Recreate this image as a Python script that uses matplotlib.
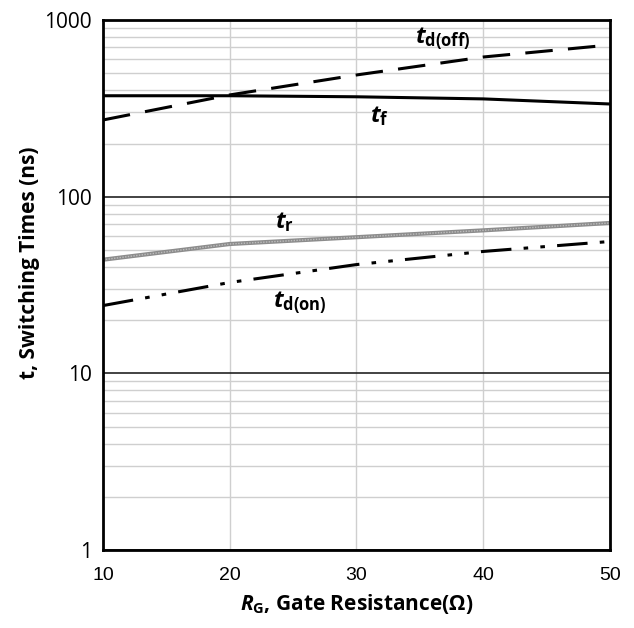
import matplotlib
matplotlib.use("Agg")
import matplotlib.pyplot as plt
from matplotlib.ticker import LogLocator, FixedLocator

plt.rcParams['mathtext.fontset'] = 'custom'
plt.rcParams['mathtext.it'] = 'Open Sans:italic:bold'
plt.rcParams['mathtext.rm'] = 'Open Sans:bold'
plt.rcParams['mathtext.bf'] = 'Open Sans:bold'

rg = [10, 20, 30, 40, 50]
td_off = [272, 377, 489, 618, 723]
t_f = [373, 373, 368, 358, 335]
t_r = [44, 54, 59, 64.5, 71]
td_on = [24.2, 32.7, 41.3, 49, 55.8]
x_ticks = [10, 20, 30, 40, 50]
y_ticks = [1, 10, 100, 1000]
y_ticklabels = ["1", "10", "100", "1000"]

fig = plt.figure(figsize=(6.34, 6.28), dpi=100)
ax = fig.add_axes([0.1625, 0.1242, 0.7995, 0.8438])
ax.set_yscale('log')
ax.set_xlim(10, 50)
ax.set_ylim(1, 1000)

ax.yaxis.set_minor_locator(LogLocator(base=10, subs=range(2, 10)))
ax.grid(which='minor', axis='y', color='#cfcfcf', lw=1.0)
ax.grid(which='major', axis='y', color='#222222', lw=1.2)
ax.xaxis.set_major_locator(FixedLocator(x_ticks))
ax.grid(which='major', axis='x', color='#cfcfcf', lw=1.0)
ax.set_axisbelow(True)

ax.plot(rg, td_off, color='black', lw=2.2, dashes=(9, 5))
ax.plot(rg, t_f, color='black', lw=2.2)
ax.plot(rg, t_r, color='#8c8c8c', lw=3.0)
ax.plot(rg, t_r, color='#bdbdbd', lw=1.0, dashes=(1, 1))
ax.plot(rg, td_on, color='black', lw=2.2, dashes=(10, 4, 1.5, 4, 1.5, 4))

ax.set_yticks(y_ticks)
ax.set_yticklabels(y_ticklabels, fontsize=15, family='Open Sans')
ax.set_xticks(x_ticks)
ax.set_xticklabels([str(v) for v in x_ticks], fontsize=14, family='Liberation Sans')
ax.tick_params(which='both', length=0, pad=12)
ax.tick_params(axis='y', pad=8)

for s in ax.spines.values():
    s.set_linewidth(2.0)
    s.set_color('black')

ax.text(34.6, 780, r'$t_{\mathrm{d(off)}}$', fontsize=17, va='center')
ax.text(31.1, 285, r'$t_{\mathrm{f}}$', fontsize=17, va='center')
ax.text(23.6, 72, r'$t_{\mathrm{r}}$', fontsize=17, va='center')
ax.text(23.4, 30, r'$t_{\mathrm{d(on)}}$', fontsize=17, va='top')

ax.set_xlabel(r'$R_{\mathrm{G}}$' + ', Gate Resistance(Ω)', fontsize=15,
              fontweight='bold', family='Open Sans', labelpad=6)
ax.set_ylabel('t, Switching Times (ns)', fontsize=15, fontweight='bold',
              family='Open Sans')
ax.yaxis.set_label_coords(-0.124, 0.543)

fig.savefig('out.png', dpi=100)
